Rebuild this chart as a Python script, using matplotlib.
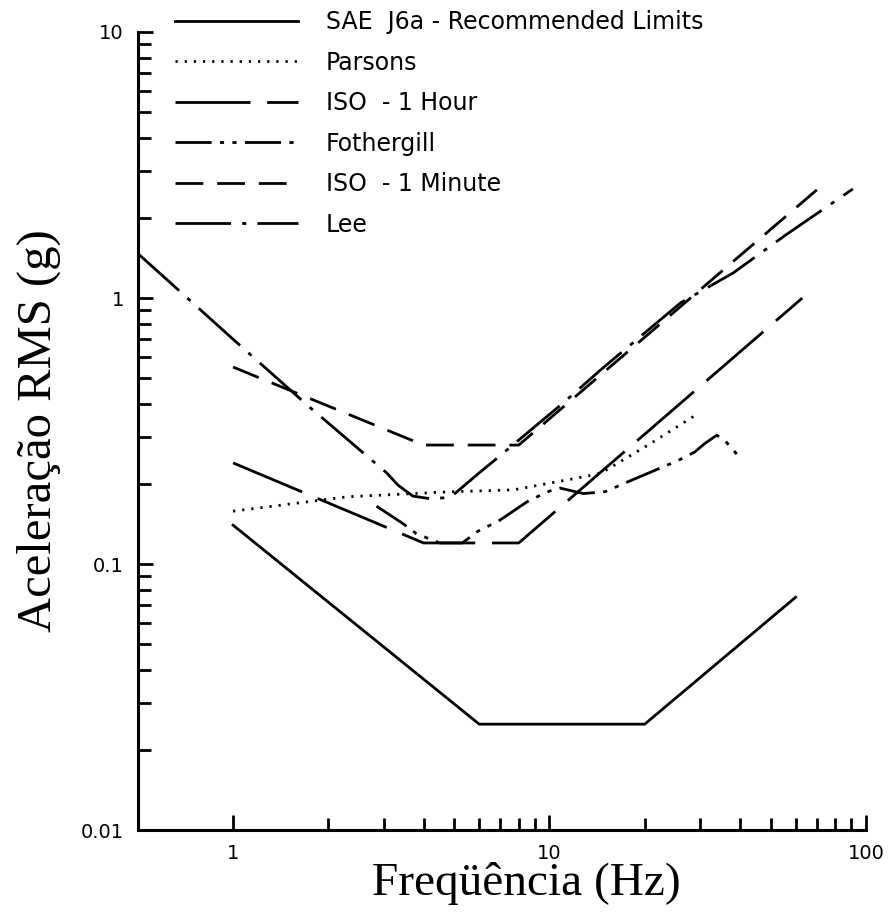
import matplotlib
matplotlib.use("Agg")
import matplotlib.pyplot as plt
from matplotlib.ticker import FixedLocator, FixedFormatter, NullFormatter

# data (frequency in Hz, RMS acceleration in g)
sae_f = [1, 6, 20, 60]
sae_a = [0.14, 0.025, 0.025, 0.075]

parsons_f = [1, 2.3, 4.9, 7.7, 12.9, 14.6, 20.9, 29]
parsons_a = [0.158, 0.179, 0.187, 0.19, 0.213, 0.22, 0.284, 0.363]

iso1h_f = [1, 4, 8, 63]
iso1h_a = [0.24, 0.12, 0.12, 1.0]

fother_f = [2.84, 3.44, 3.8, 4.5, 5.3, 5.95, 6.9, 8.6, 10, 10.8, 12.8, 15,
            17.4, 25.5, 28.7, 31, 33.8, 35.8, 39.4]
fother_a = [0.165, 0.142, 0.13, 0.12, 0.12, 0.133, 0.145, 0.173, 0.188, 0.193,
            0.184, 0.187, 0.202, 0.245, 0.263, 0.284, 0.305, 0.292, 0.256]

iso1m_f = [1, 4, 8, 70]
iso1m_a = [0.55, 0.28, 0.28, 2.55]

lee_f = [0.5, 1, 1.74, 3.06, 3.32, 3.7, 4.2, 4.86, 5.97, 7, 11.1, 14.6, 26,
         38, 55.6, 91]
lee_a = [1.47, 0.70, 0.39, 0.22, 0.198, 0.18, 0.176, 0.178, 0.219, 0.256,
         0.405, 0.54, 0.96, 1.24, 1.72, 2.57]

x_ticks = [1, 10, 100]
x_labels = ["1", "10", "100"]
y_ticks = [0.01, 0.1, 1, 10]
y_labels = ["0.01", "0.1", "1", "10"]

fig = plt.figure(figsize=(8.95, 9.19), dpi=100)
ax = fig.add_axes([0.154, 0.0968, 0.8134, 0.8684])

lw = 2.0
ax.plot(sae_f, sae_a, color="black", lw=lw, linestyle="-",
        label="SAE  J6a - Recommended Limits")
ax.plot(parsons_f, parsons_a, color="black", lw=lw, linestyle=(0, (0.8, 2.5)),
        label="Parsons")
ax.plot(iso1h_f, iso1h_a, color="black", lw=lw, linestyle=(0, (27, 6)),
        label="ISO  - 1 Hour")
ax.plot(fother_f, fother_a, color="black", lw=lw,
        linestyle=(0, (13, 3, 1.5, 3, 1.5, 3)), label="Fothergill")
ax.plot(iso1m_f, iso1m_a, color="black", lw=lw, linestyle=(0, (10, 5)),
        label="ISO  - 1 Minute")
ax.plot(lee_f, lee_a, color="black", lw=lw, linestyle=(0, (20, 4, 1.5, 4)),
        label="Lee")

ax.set_xscale("log")
ax.set_yscale("log")
ax.set_xlim(0.5, 100)
ax.set_ylim(0.01, 10)

ax.xaxis.set_major_locator(FixedLocator(x_ticks))
ax.xaxis.set_major_formatter(FixedFormatter(x_labels))
ax.xaxis.set_minor_locator(FixedLocator([2, 3, 4, 5, 6, 7, 8, 9,
                                         20, 30, 40, 50, 60, 70, 80, 90]))
ax.xaxis.set_minor_formatter(NullFormatter())
ax.yaxis.set_major_locator(FixedLocator(y_ticks))
ax.yaxis.set_major_formatter(FixedFormatter(y_labels))
ax.yaxis.set_minor_locator(FixedLocator([m * d for d in (0.01, 0.1, 1)
                                         for m in range(2, 10)]))
ax.yaxis.set_minor_formatter(NullFormatter())

ax.tick_params(which="both", direction="in", width=2, labelsize=14, pad=10)
ax.tick_params(which="major", length=11)
ax.tick_params(which="minor", length=9)
for s in ("top", "right"):
    ax.spines[s].set_visible(False)
for s in ("left", "bottom"):
    ax.spines[s].set_linewidth(2.2)

ax.set_xlabel("Freqüência (Hz)", family="Liberation Serif", fontsize=34)
ax.xaxis.set_label_coords(0.534, -0.04)
ax.set_ylabel("Aceleração RMS (g)", family="Liberation Serif", fontsize=35)
ax.yaxis.set_label_coords(-0.105, 0.5)

ax.legend(loc="upper left", bbox_to_anchor=(175 / 895, 1 - 10 / 919),
          bbox_transform=fig.transFigure, frameon=False, fontsize=17,
          handlelength=5.2, handletextpad=1.2, labelspacing=0.7,
          borderpad=0, borderaxespad=0)

fig.savefig("out.png", dpi=100)
